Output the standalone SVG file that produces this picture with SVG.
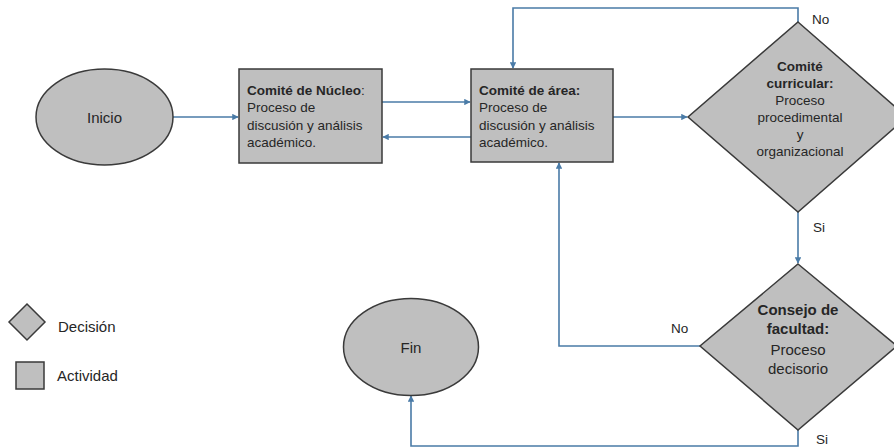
<svg xmlns="http://www.w3.org/2000/svg" width="894" height="448" viewBox="0 0 894 448">
<style>
  .shape { fill: #bfbfbf; stroke: #3a3a3a; stroke-width: 1.5; }
  .conn { fill: none; stroke: #4a7ba7; stroke-width: 1.6; }
  text { font-family: "Liberation Sans", Arial, sans-serif; fill: #262626; }
  .t { font-size: 13.5px; }
  .b { font-weight: bold; }
  .lbl { font-size: 13.5px; }
  .mid { text-anchor: middle; }
  .big { font-size: 15px; }
</style>
<defs>
  <marker id="arr" viewBox="0 0 10 10" refX="9" refY="5" markerWidth="4" markerHeight="4" orient="auto" markerUnits="strokeWidth">
    <path d="M0,0 L10,5 L0,10 z" fill="#4a7ba7"/>
  </marker>
</defs>
<rect width="894" height="448" fill="#ffffff"/>

<g id="connectors">
  <path class="conn" d="M173,117 H238" marker-end="url(#arr)"/>
  <path class="conn" d="M382,102 H470" marker-end="url(#arr)"/>
  <path class="conn" d="M471,137 H383" marker-end="url(#arr)"/>
  <path class="conn" d="M613,117 H687" marker-end="url(#arr)"/>
  <path class="conn" d="M798,22 V8 H513 V68" marker-end="url(#arr)"/>
  <path class="conn" d="M798,212 V263" marker-end="url(#arr)"/>
  <path class="conn" d="M700,346 H559 V163" marker-end="url(#arr)"/>
  <path class="conn" d="M798,430 V446 H411 V396" marker-end="url(#arr)"/>
  <text class="lbl" x="812" y="24">No</text>
  <text class="lbl" x="813" y="232">Si</text>
  <text class="lbl" x="671" y="333">No</text>
  <text class="lbl" x="816" y="444">Si</text>
</g>

<g id="inicio">
  <ellipse class="shape" cx="104.5" cy="117" rx="68.5" ry="48"/>
  <text class="big mid" x="104.5" y="123">Inicio</text>
</g>

<g id="comite-nucleo">
  <rect class="shape" x="239" y="69" width="143" height="94"/>
  <text class="t" x="247" y="95"><tspan class="b">Comité de Núcleo</tspan>:</text>
  <text class="t" x="247" y="112">Proceso de</text>
  <text class="t" x="247" y="130">discusión y análisis</text>
  <text class="t" x="247" y="147">académico.</text>
</g>

<g id="comite-area">
  <rect class="shape" x="471" y="69" width="142" height="93"/>
  <text class="t b" x="479" y="95">Comité de área:</text>
  <text class="t" x="479" y="112">Proceso de</text>
  <text class="t" x="479" y="130">discusión y análisis</text>
  <text class="t" x="479" y="147">académico.</text>
</g>

<g id="comite-curricular">
  <polygon class="shape" points="798,22 907,117 798,212 688,117"/>
  <text class="t b mid" x="800" y="71">Comité</text>
  <text class="t b mid" x="800" y="88">curricular:</text>
  <text class="t mid" x="800" y="105">Proceso</text>
  <text class="t mid" x="800" y="122">procedimental</text>
  <text class="t mid" x="800" y="139">y</text>
  <text class="t mid" x="800" y="156">organizacional</text>
</g>

<g id="consejo-facultad">
  <polygon class="shape" points="798,264 897,346 798,430 700,346"/>
  <text class="big b mid" x="798" y="315">Consejo de</text>
  <text class="big b mid" x="798" y="334">facultad:</text>
  <text class="big mid" x="798" y="355">Proceso</text>
  <text class="big mid" x="798" y="374">decisorio</text>
</g>

<g id="fin">
  <ellipse class="shape" cx="411" cy="347" rx="67.5" ry="48.5"/>
  <text class="big mid" x="411" y="353">Fin</text>
</g>

<g id="legend">
  <polygon class="shape" points="27,304 45,322 27,340 9,322"/>
  <text class="big" x="58" y="332">Decisión</text>
  <rect class="shape" x="16" y="362" width="28" height="27"/>
  <text class="big" x="57" y="381">Actividad</text>
</g>
</svg>
